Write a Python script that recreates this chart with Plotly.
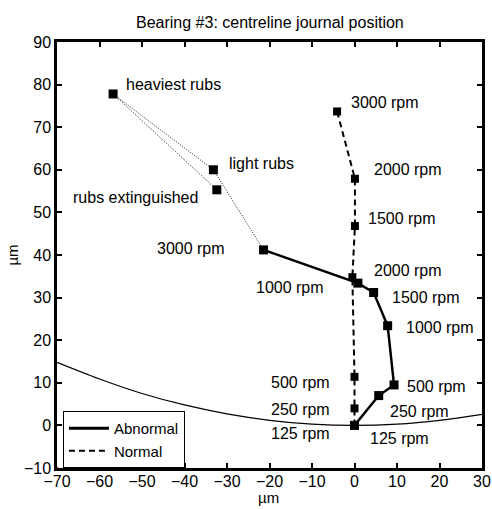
import plotly.graph_objects as go

# ---- data ----
abn_x = [0.0, 5.7, 9.3, 7.8, 4.5, 0.8, -21.4]
abn_y = [0.0, 7.0, 9.5, 23.4, 31.2, 33.4, 41.2]
abn_lbl = ["125 rpm", "250 rpm", "500 rpm", "1000 rpm", "1500 rpm", "2000 rpm", "3000 rpm"]

nor_x = [0.0, 0.0, 0.0, -0.5, 0.1, 0.1, -4.1]
nor_y = [0.0, 4.0, 11.4, 34.8, 46.8, 57.9, 73.7]
nor_lbl = ["125 rpm", "250 rpm", "500 rpm", "1000 rpm", "1500 rpm", "2000 rpm", "3000 rpm"]

rub_x = [-21.4, -33.2, -56.8, -32.4]
rub_y = [41.2, 60.0, 77.8, 55.3]
rub_lbl = ["", "light rubs", "heaviest rubs", "rubs extinguished"]

clr_x = [-70, -60, -50, -40, -30, -20, -10, 0, 10, 20, 30]
clr_y = [14.8, 10.9, 7.5, 4.8, 2.7, 1.2, 0.3, 0.0, 0.3, 1.2, 2.6]

x_ticks = [-70, -60, -50, -40, -30, -20, -10, 0, 10, 20, 30]
y_ticks = [-10, 0, 10, 20, 30, 40, 50, 60, 70, 80, 90]

TITLE = "Bearing #3: centreline journal position"
AXIS_LABEL = "µm"

# label placements (data coordinates)
abn_pos = [(10.5, -3.0), (15.3, 3.2), (19.2, 9.1), (20.0, 23.0), (16.8, 30.1), (12.7, 36.3), (-38.5, 41.6)]
nor_pos = [(-12.6, -1.9), (-12.6, 3.8), (-12.6, 10.1), (-15.2, 32.3), (11.1, 48.6), (12.5, 60.0), (7.2, 75.7)]
rub_pos = [None, (-22.0, 61.4), (-42.5, 80.1), (-51.6, 53.6)]

FONT = "Liberation Sans, Arial, sans-serif"
FS = 16

fig = go.Figure()

# clearance curve
fig.add_trace(go.Scatter(x=clr_x, y=clr_y, mode="lines", line=dict(color="black", width=1.2, shape="spline"),
                         showlegend=False, hoverinfo="skip"))
# rub path (dotted)
fig.add_trace(go.Scatter(x=rub_x, y=rub_y, mode="lines",
                         line=dict(color="#222222", width=1, dash="1px,1.5px"),
                         showlegend=False))
fig.add_trace(go.Scatter(x=rub_x[1:], y=rub_y[1:], mode="markers",
                         marker=dict(symbol="square", size=9, color="black", line=dict(width=0)),
                         showlegend=False))
# normal
fig.add_trace(go.Scatter(x=nor_x, y=nor_y, mode="lines+markers",
                         line=dict(color="black", width=2, dash="6px,4px"),
                         marker=dict(symbol="square", size=8, color="black", line=dict(width=0)),
                         showlegend=False))
# abnormal
fig.add_trace(go.Scatter(x=abn_x, y=abn_y, mode="lines+markers",
                         line=dict(color="black", width=2.5),
                         marker=dict(symbol="square", size=9, color="black", line=dict(width=0)),
                         showlegend=False))
# legend entries
fig.add_trace(go.Scatter(x=[None], y=[None], mode="lines", name="Abnormal",
                         line=dict(color="black", width=3)))
fig.add_trace(go.Scatter(x=[None], y=[None], mode="lines", name="Normal",
                         line=dict(color="black", width=2, dash="6px,4px")))
# tiny red corner dot
fig.add_trace(go.Scatter(x=[x_ticks[0]], y=[y_ticks[0]], mode="markers",
                         marker=dict(color="red", size=3), showlegend=False, cliponaxis=False))

annotations = []
for lbls, pos in ((abn_lbl, abn_pos), (nor_lbl, nor_pos), (rub_lbl, rub_pos)):
    for t, p in zip(lbls, pos):
        if p is None or not t:
            continue
        annotations.append(dict(x=p[0], y=p[1], xref="x", yref="y", text=t, showarrow=False,
                                font=dict(family=FONT, size=FS, color="black"),
                                xanchor="center", yanchor="middle"))
annotations.append(dict(x=0.497, y=-0.094, xref="paper", yref="paper", text=AXIS_LABEL, showarrow=False,
                        font=dict(family=FONT, size=15, color="black"), xanchor="center", yanchor="bottom"))
annotations.append(dict(x=-0.107, y=0.5, xref="paper", yref="paper", text=AXIS_LABEL, showarrow=False,
                        textangle=-90,
                        font=dict(family=FONT, size=15, color="black"), xanchor="center", yanchor="middle"))
annotations.append(dict(x=0.5, y=1.045, xref="paper", yref="paper", text=TITLE, showarrow=False,
                        font=dict(family=FONT, size=16, color="black"), xanchor="center", yanchor="middle"))

axis_common = dict(showline=True, linecolor="black", linewidth=2.5, mirror="allticks",
                   ticks="inside", ticklen=5, tickwidth=2, tickcolor="black",
                   showgrid=False, zeroline=False, automargin=False,
                   tickfont=dict(family=FONT, size=FS, color="black"))

fig.update_layout(
    width=492, height=509,
    margin=dict(l=57, r=10, t=42, b=41),
    paper_bgcolor="white", plot_bgcolor="white",
    xaxis=dict(range=[-70, 30], tickvals=x_ticks, ticklabelstandoff=-3, **axis_common),
    yaxis=dict(range=[-10, 90], tickvals=y_ticks, **axis_common),
    annotations=annotations,
    legend=dict(x=0.014, y=0.134, xanchor="left", yanchor="top",
                bordercolor="black", borderwidth=1, bgcolor="white",
                font=dict(family=FONT, size=15, color="black"),
                tracegroupgap=0, itemwidth=40),
    showlegend=True,
)

fig.write_html("out.html")
